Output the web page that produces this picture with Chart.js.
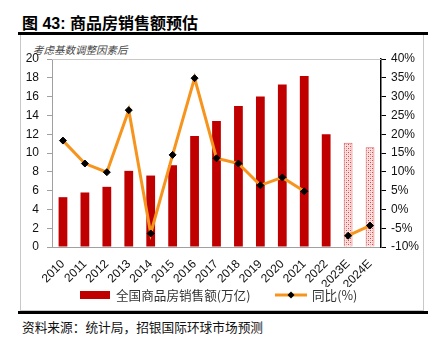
<!DOCTYPE html>
<html>
<head>
<meta charset="utf-8">
<script src="https://cdn.jsdelivr.net/npm/chart.js@4"></script>
<style>
  body { margin: 0; background: #fff; font-family: "Liberation Sans", Arial, sans-serif; }
  #wrap { position: relative; width: 432px; height: 350px; overflow: hidden; }
  .abs { position: absolute; }
  #title { left: 22px; top: 10px; font: bold 16px "Liberation Sans", "Noto Sans CJK SC", sans-serif; color: #000; }
  #title span { font-family: "Noto Sans CJK SC", sans-serif; }
  #topline { left: 18px; top: 32px; width: 410px; height: 3px; background: #000; }
  #frame { left: 20px; top: 35px; width: 404px; height: 276px; border: 1px solid #c8c8c8; border-top: none; box-sizing: border-box; }
  #botline { left: 18px; top: 311px; width: 410px; height: 3px; background: #000; }
  #source { left: 22px; top: 317px; font: 12.7px "Noto Sans CJK SC", sans-serif; color: #111; }
  #note { left: 33px; top: 42px; font: 10.5px "Noto Sans CJK SC", sans-serif; color: #444; font-style: italic; }
  canvas { position: absolute; left: 0; top: 0; }
</style>
</head>
<body>
<div id="wrap">
  <div id="title" class="abs">图 43: <span>商品房销售额预估</span></div>
  <div id="topline" class="abs"></div>
  <div id="frame" class="abs"></div>
  <div id="note" class="abs">考虑基数调整因素后</div>
  <div id="botline" class="abs"></div>
  <div id="source" class="abs">资料来源：统计局，招银国际环球市场预测</div>
  <canvas id="chart" width="432" height="350"></canvas>
</div>
<script>
// data
var years = ['2010', '2011', '2012', '2013', '2014', '2015', '2016', '2017',
  '2018', '2019', '2020', '2021', '2022', '2023E', '2024E'];
var sales = [5.3, 5.8, 6.4, 8.1, 7.6, 8.7, 11.8, 13.4, 15.0, 16.0, 17.3, 18.2, 12.0, 11.1, 10.6];
var yoy = [18.3, 12.2, 9.9, 26.4, -6.4, 14.5, 34.9, 13.6, 12.2, 6.4, 8.5, 4.8, null, -7.0, -4.3];
var isForecast = [false, false, false, false, false, false, false, false, false, false, false, false, false, true, true];
var leftTicks = { min: 0, max: 20, step: 2 };
var rightTicks = { min: -10, max: 40, step: 5 };

var red = '#c00000';
var orange = '#f7941d';

// dotted fill for forecast bars
function dotPattern() {
  var c = document.createElement('canvas');
  c.width = 4; c.height = 4;
  var g = c.getContext('2d');
  g.fillStyle = '#fbe0e0';
  g.fillRect(0, 0, 4, 4);
  g.fillStyle = '#e04040';
  g.fillRect(0, 0, 1, 1);
  g.fillRect(2, 2, 1, 1);
  g.fillStyle = '#f3a8a8';
  g.fillRect(2, 0, 1, 1);
  g.fillRect(0, 2, 1, 1);
  return document.getElementById('chart').getContext('2d').createPattern(c, 'repeat');
}
var pat = dotPattern();

var tickFont = { family: '"Liberation Sans", Arial', size: 12 };

var extras = {
  id: 'extras',
  beforeDatasetsDraw: function (chart) {
    var ctx = chart.ctx, a = chart.chartArea;
    ctx.save();
    ctx.strokeStyle = '#c8c8c8';
    ctx.lineWidth = 1;
    ctx.beginPath();
    ctx.moveTo(a.left, a.top + 0.5);
    ctx.lineTo(a.right, a.top + 0.5);
    ctx.stroke();
    ctx.restore();
  },
  afterDraw: function (chart) {
    var ctx = chart.ctx;
    var ds = chart.data.datasets;
    var y = 295;
    ctx.save();
    ctx.font = '12.6px "Noto Sans CJK SC"';
    ctx.textBaseline = 'middle';
    // bar legend
    ctx.fillStyle = red;
    ctx.fillRect(80, y - 4, 30, 8);
    ctx.fillStyle = '#333';
    ctx.fillText(ds[1].label, 116, y);
    // line legend
    ctx.strokeStyle = orange;
    ctx.lineWidth = 3;
    ctx.beginPath();
    ctx.moveTo(275, y);
    ctx.lineTo(307, y);
    ctx.stroke();
    ctx.fillStyle = '#000';
    ctx.beginPath();
    ctx.moveTo(291, y - 3.5);
    ctx.lineTo(294.5, y);
    ctx.lineTo(291, y + 3.5);
    ctx.lineTo(287.5, y);
    ctx.closePath();
    ctx.fill();
    ctx.fillStyle = '#333';
    ctx.fillText(ds[0].label, 312, y);
    ctx.restore();
  }
};

new Chart(document.getElementById('chart'), {
  type: 'bar',
  data: {
    labels: years,
    datasets: [{
      type: 'line',
      label: '同比(%)',
      data: yoy,
      yAxisID: 'y1',
      borderColor: orange,
      borderWidth: 3,
      pointStyle: 'rectRot',
      pointRadius: 3.5,
      pointBackgroundColor: '#000',
      pointBorderColor: '#000',
      pointBorderWidth: 1,
      spanGaps: false,
      tension: 0,
      order: 0
    }, {
      label: '全国商品房销售额(万亿)',
      data: sales,
      yAxisID: 'y',
      backgroundColor: isForecast.map(function (f) { return f ? pat : red; }),
      borderColor: isForecast.map(function (f) { return f ? '#e06060' : red; }),
      borderWidth: isForecast.map(function (f) { return f ? 1 : 0; }),
      categoryPercentage: 1,
      barPercentage: 0.4,
      order: 1
    }]
  },
  options: {
    responsive: false,
    animation: false,
    layout: { padding: { left: 20, right: 7, top: 59, bottom: 63 } },
    plugins: { legend: { display: false }, tooltip: { enabled: false } },
    scales: {
      x: {
        grid: { display: false },
        border: { color: '#a0a0a0' },
        ticks: { color: '#111', font: tickFont, maxRotation: 45, minRotation: 45, padding: 2, autoSkip: false },
        afterFit: function (s) { s.height = 40; }
      },
      y: {
        position: 'left',
        min: leftTicks.min, max: leftTicks.max,
        ticks: { stepSize: leftTicks.step, color: '#111', font: tickFont, padding: 8 },
        grid: { drawOnChartArea: false, tickLength: 5, color: '#a0a0a0' },
        border: { color: '#a0a0a0' },
        afterFit: function (s) { s.width = 32; }
      },
      y1: {
        position: 'right',
        min: rightTicks.min, max: rightTicks.max,
        ticks: { stepSize: rightTicks.step, color: '#111', font: tickFont, padding: 5,
          callback: function (v) { return v + '%'; } },
        grid: { drawOnChartArea: false, tickLength: 5, color: '#000' },
        border: { color: '#000', width: 1.5 },
        afterFit: function (s) { s.width = 44; }
      }
    }
  },
  plugins: [extras]
});
</script>
</body>
</html>
